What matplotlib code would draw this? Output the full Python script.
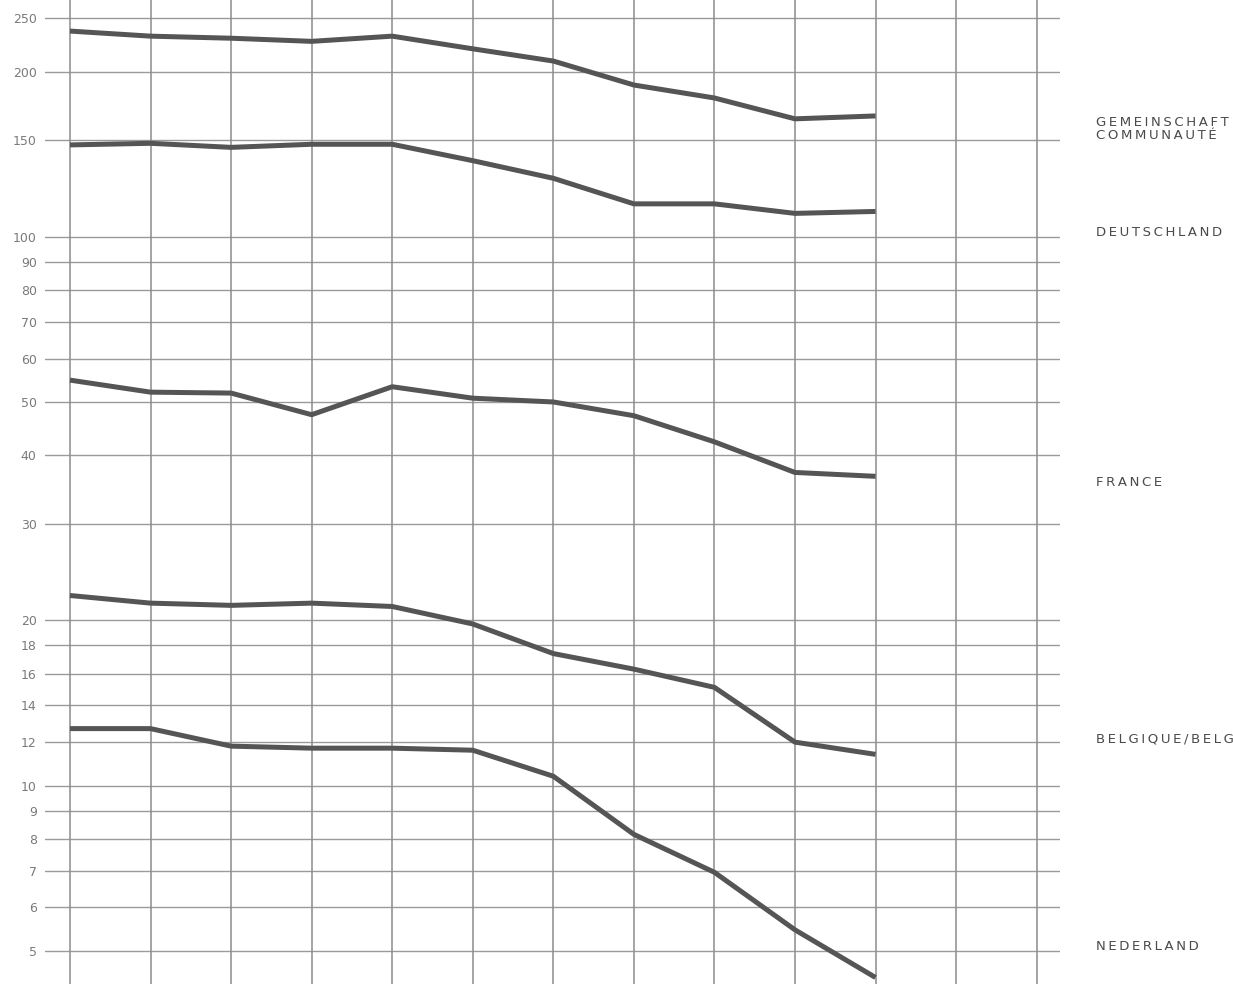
import numpy as np
import matplotlib
matplotlib.use("Agg")
import matplotlib.pyplot as plt

# values (log scale), 11 points each
points = list(range(11))
gemeinschaft = [237, 232, 230, 227, 232, 220, 209, 189, 179, 164, 166]
deutschland = [147, 148, 145.5, 147.4, 147.4, 137.6, 127.8, 114.8, 114.8, 110.3, 111.2]
france = [54.8, 52.1, 51.9, 47.4, 53.3, 50.8, 50.0, 47.2, 42.3, 37.2, 36.6]
belgique = [22.2, 21.5, 21.3, 21.5, 21.2, 19.7, 17.4, 16.3, 15.1, 12.0, 11.4]
nederland = [12.7, 12.7, 11.8, 11.7, 11.7, 11.6, 10.4, 8.15, 6.95, 5.46, 4.47]

series = [gemeinschaft, deutschland, france, belgique, nederland]
names = ["GEMEINSCHAFT\nCOMMUNAUTÉ", "DEUTSCHLAND", "FRANCE",
         "BELGIQUE/BELGIË", "NEDERLAND"]
name_levels = [157, 101.6, 35.7, 12.1, 5.1]

yticks = [5, 6, 7, 8, 9, 10, 12, 14, 16, 18, 20, 30, 40, 50, 60, 70, 80, 90,
          100, 150, 200, 250]
n_vlines = 13


def spaced(s):
    # a bit of letter spacing like the printed labels
    return "\n".join("\u2009".join(line) for line in s.split("\n"))


fig = plt.figure(figsize=(12.33, 9.84), dpi=100)
ax = fig.add_axes([45 / 1233, 0, (1060 - 45) / 1233, 1])

ax.set_yscale("log")
ax.set_xlim(-0.31, 12.29)
ax.set_ylim(4.35, 270)

for v in yticks:
    ax.axhline(v, color="#9a9a9a", lw=1.0, zorder=1)
for i in range(n_vlines):
    ax.axvline(i, color="#8c8c8c", lw=1.1, zorder=1)

for s in series:
    ax.plot(points, s, color="#555555", lw=3.6, solid_capstyle="butt",
            solid_joinstyle="round", zorder=3)

# the last label runs off the right edge in the original print too
for name, lev in zip(names, name_levels):
    ax.text(12.74, lev, spaced(name), fontsize=9.5, color="#4a4a4a",
            va="center", ha="left", linespacing=0.95, clip_on=False)

ax.set_yticks(yticks)
ax.set_yticklabels([str(v) for v in yticks])
ax.yaxis.set_minor_locator(matplotlib.ticker.NullLocator())
ax.tick_params(axis="y", length=0, pad=6, labelsize=9, labelcolor="#7a7a7a")
ax.set_xticks([])
for sp in ax.spines.values():
    sp.set_visible(False)

fig.savefig("out.png", dpi=100, facecolor="white")
